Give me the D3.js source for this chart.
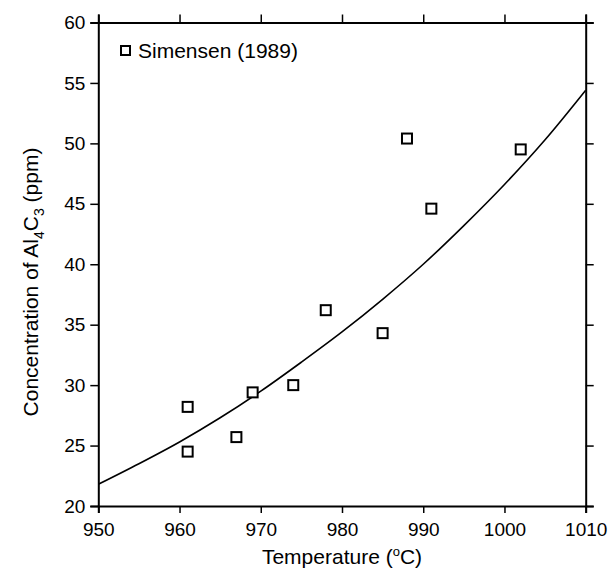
<!DOCTYPE html>
<html>
<head>
<meta charset="utf-8">
<script src="https://cdn.jsdelivr.net/npm/d3@7"></script>
<style>
  body { margin: 0; background: #fff; }
  svg { font-family: "Liberation Sans", Arial, sans-serif; }
</style>
</head>
<body>
<svg id="chart" width="616" height="569"></svg>
<script>
// measured points (Simensen 1989)
const tempPts = [961, 961, 967, 969, 974, 978, 985, 988, 991, 1002]
const concPts = [28.2, 24.5, 25.7, 29.4, 30.0, 36.2, 34.3, 50.4, 44.6, 49.5]

// fitted curve
const curveTemps = [950, 955, 960, 965, 970, 975, 980, 985, 990, 995, 1000, 1005, 1010]
const curveConc = [21.8, 23.5, 25.3, 27.3, 29.5, 31.9, 34.4, 37.1, 40.0, 43.2, 46.6, 50.3, 54.4]

const xTicks = [950, 960, 970, 980, 990, 1000, 1010]
const yTicks = [20, 25, 30, 35, 40, 45, 50, 55, 60]

const svg = d3.select('#chart')
const plotL = 98.3, plotR = 585.7, plotT = 22.5, plotB = 506

const x = d3.scaleLinear().domain([950, 1010]).range([plotL, plotR])
const y = d3.scaleLinear().domain([20, 60]).range([plotB, plotT])

function styleAxis(g) {
  g.select('.domain').attr('stroke', '#000').attr('stroke-width', 2)
  g.selectAll('.tick line').attr('stroke', '#000').attr('stroke-width', 1.5)
  g.selectAll('.tick text').attr('font-size', 19).attr('fill', '#000')
}

// bottom
svg.append('g')
  .attr('transform', 'translate(0,' + plotB + ')')
  .call(d3.axisBottom(x).tickValues(xTicks).tickFormat(d3.format('d')).tickSizeOuter(0).tickSize(7).tickPadding(10))
  .call(styleAxis)
// left
svg.append('g')
  .attr('transform', 'translate(' + plotL + ',0)')
  .call(d3.axisLeft(y).tickValues(yTicks).tickSizeOuter(0).tickSize(8).tickPadding(5))
  .call(styleAxis)
// top, ticks only
svg.append('g')
  .attr('transform', 'translate(0,' + plotT + ')')
  .call(d3.axisTop(x).tickValues(xTicks).tickFormat('').tickSizeOuter(0).tickSize(8))
  .call(styleAxis)
// right, ticks only
svg.append('g')
  .attr('transform', 'translate(' + plotR + ',0)')
  .call(d3.axisRight(y).tickValues(yTicks).tickFormat('').tickSizeOuter(0).tickSize(8))
  .call(styleAxis)

// curve
const line = d3.line()
  .x(function (d, i) { return x(curveTemps[i]) })
  .y(function (d) { return y(d) })
  .curve(d3.curveMonotoneX)
svg.append('path')
  .attr('d', line(curveConc))
  .attr('fill', 'none')
  .attr('stroke', '#000')
  .attr('stroke-width', 1.6)

// markers
const sz = 10
svg.append('g').selectAll('rect')
  .data(concPts)
  .join('rect')
  .attr('x', function (d, i) { return x(tempPts[i]) - sz / 2 })
  .attr('y', function (d) { return y(d) - sz / 2 })
  .attr('width', sz)
  .attr('height', sz)
  .attr('fill', '#fff')
  .attr('stroke', '#000')
  .attr('stroke-width', 2)

// legend
svg.append('rect')
  .attr('x', 121).attr('y', 46).attr('width', sz - 1).attr('height', sz - 1)
  .attr('fill', '#fff').attr('stroke', '#000').attr('stroke-width', 2)
svg.append('text')
  .attr('x', 138).attr('y', 58)
  .attr('font-size', 21)
  .text('Simensen (1989)')

// x label
const xl = svg.append('text')
  .attr('x', (plotL + plotR) / 2)
  .attr('y', 564)
  .attr('text-anchor', 'middle')
  .attr('font-size', 21)
xl.append('tspan').text('Temperature (')
xl.append('tspan').attr('font-size', 13).attr('dy', -8).text('o')
xl.append('tspan').attr('dy', 8).text('C)')

// y label
const yl = svg.append('text')
  .attr('transform', 'translate(38,282) rotate(-90)')
  .attr('text-anchor', 'middle')
  .attr('font-size', 21)
yl.append('tspan').text('Concentration of Al')
yl.append('tspan').attr('font-size', 14).attr('dy', 6).text('4')
yl.append('tspan').attr('dy', -6).text('C')
yl.append('tspan').attr('font-size', 14).attr('dy', 6).text('3')
yl.append('tspan').attr('dy', -6).text(' (ppm)')
</script>
</body>
</html>
